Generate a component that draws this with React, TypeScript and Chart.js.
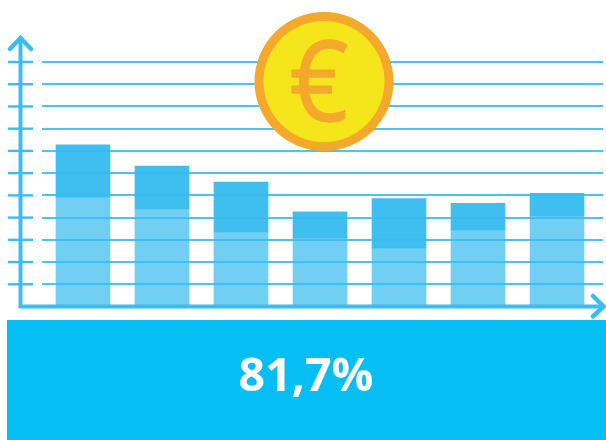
import React, { useEffect, useRef } from "react";
import { Chart, registerables } from "chart.js";

Chart.register(...registerables);

const categories = ["1", "2", "3", "4", "5", "6", "7"];
const lowerValues = [49.2, 43.9, 33.6, 30.9, 26.4, 34.5, 40.8];
const upperValues = [23.5, 19.3, 22.4, 11.7, 22.2, 11.9, 10.1];
const bannerText = "81,7%";
const coinSymbol = "€";

const BLUE = "#3bbdf0";

const decorations = {
  id: "decorations",
  beforeDatasetsDraw(chart: any) {
    const { ctx } = chart;
    const y = chart.scales.y;
    ctx.save();
    ctx.strokeStyle = BLUE;
    ctx.lineCap = "butt";
    ctx.lineWidth = 2.4;
    y.ticks.forEach((t: any) => {
      if (t.value === 0) return;
      const py = y.getPixelForValue(t.value);
      ctx.beginPath();
      ctx.moveTo(8, py);
      ctx.lineTo(33, py);
      ctx.stroke();
    });
    ctx.restore();
  },
  afterDraw(chart: any) {
    const { ctx } = chart;
    const base = chart.scales.y.getPixelForValue(0);
    ctx.save();
    ctx.strokeStyle = BLUE;
    ctx.lineWidth = 4;
    ctx.lineCap = "butt";
    ctx.lineJoin = "miter";
    ctx.beginPath();
    ctx.moveTo(20.5, 38);
    ctx.lineTo(20.5, base);
    ctx.lineTo(603, base);
    ctx.stroke();
    ctx.lineWidth = 4.5;
    ctx.lineCap = "round";
    ctx.beginPath();
    ctx.moveTo(10, 49);
    ctx.lineTo(20.5, 38);
    ctx.lineTo(31, 49);
    ctx.moveTo(593, 296);
    ctx.lineTo(603.5, base);
    ctx.lineTo(593, 316.5);
    ctx.stroke();

    // coin
    ctx.fillStyle = "#f4a82c";
    ctx.beginPath();
    ctx.arc(324, 81.5, 69.5, 0, Math.PI * 2);
    ctx.fill();
    ctx.fillStyle = "#f5e51b";
    ctx.beginPath();
    ctx.arc(324, 81.5, 60.5, 0, Math.PI * 2);
    ctx.fill();
    ctx.fillStyle = "#f4a82c";
    ctx.strokeStyle = "#f4a82c";
    ctx.lineWidth = 1.3;
    ctx.lineJoin = "round";
    ctx.font = '112px "Open Sans"';
    ctx.textAlign = "center";
    ctx.textBaseline = "alphabetic";
    ctx.save();
    ctx.translate(319, 120.5);
    ctx.scale(0.92, 1);
    ctx.fillText(coinSymbol, 0, 0);
    ctx.strokeText(coinSymbol, 0, 0);
    ctx.restore();

    // banner
    ctx.fillStyle = "#05bff4";
    ctx.fillRect(7, 320, 599, 120);
    ctx.fillStyle = "#ffffff";
    ctx.font = 'bold 46.5px "Open Sans"';
    ctx.fillText(bannerText, 306, 391);
    ctx.restore();
  },
};

export default function App() {
  const ref = useRef<HTMLCanvasElement>(null);
  useEffect(() => {
    if (!ref.current) return;
    const chart = new Chart(ref.current, {
      type: "bar",
      data: {
        labels: categories,
        datasets: [
          {
            label: "Lower",
            data: lowerValues.map((v, i) => ({ x: i, y: v })),
            backgroundColor: "rgba(59,189,240,0.72)",
            barThickness: 54,
          },
          {
            label: "Upper",
            data: upperValues.map((v, i) => ({ x: i, y: v })),
            backgroundColor: "rgba(59,189,240,0.98)",
            barThickness: 54,
          },
        ],
      } as any,
      options: {
        animation: false,
        responsive: false,
        layout: { padding: { left: 42, right: 3, top: 62, bottom: 133.5 } },
        plugins: { legend: { display: false }, tooltip: { enabled: false }, title: { display: false } },
        scales: {
          x: {
            type: "linear",
            stacked: true,
            offset: false,
            min: -0.519,
            max: 6.582,
            display: false,
          },
          y: {
            stacked: true,
            min: 0,
            max: 110,
            ticks: { display: false, stepSize: 10 },
            border: { display: false },
            grid: { color: "rgba(59,189,240,0.9)", lineWidth: 2, drawTicks: false, z: 1 },
          },
        },
      } as any,
      plugins: [decorations],
    });
    return () => chart.destroy();
  }, []);
  return (
    <canvas
      ref={ref}
      width={606}
      height={440}
      style={{ position: "fixed", left: 0, top: 0, width: 606, height: 440 }}
    />
  );
}
